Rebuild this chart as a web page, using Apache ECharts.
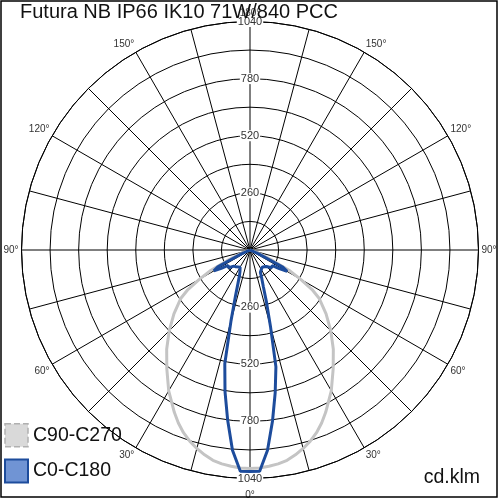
<!DOCTYPE html>
<html>
<head>
<meta charset="utf-8">
<script src="https://cdn.jsdelivr.net/npm/echarts@6/dist/echarts.min.js"></script>
<style>
html,body{margin:0;padding:0;background:#fff;}
#c{width:500px;height:500px;}
</style>
</head>
<body>
<div id="c"></div>
<script>
// gamma angles (deg from nadir)
const gammaAngles = [0, 2.5, 5, 7.5, 10, 12.5, 15, 17.5, 20, 22.5, 25, 30, 35, 40, 45, 50, 55, 57.5, 60, 62.5, 65, 67.5, 70, 75, 80, 85, 90, 180];
// C0 plane (drawn on right half), C180 plane (left half), cd/klm
const c0Values   = [1008, 1008, 915, 785, 660, 545, 360, 250, 178, 140, 112, 92, 96, 100, 106, 126, 124, 158, 195, 168, 45, 12, 5, 2, 1, 0, 0, 0];
const c180Values = [1008, 1008, 915, 780, 655, 530, 334, 220, 158, 125, 108, 90, 94, 100, 104, 126, 122, 155, 190, 165, 45, 12, 5, 2, 1, 0, 0, 0];
// C90 plane (right half), C270 plane (left half)
const c90Values  = [995, 993, 988, 982, 972, 955, 935, 912, 885, 852, 815, 740, 660, 590, 520, 452, 385, 335, 265, 200, 115, 50, 20, 6, 2, 0, 0, 0];
const c270Values = [995, 993, 988, 982, 972, 955, 935, 912, 885, 852, 815, 740, 660, 590, 520, 452, 385, 335, 265, 200, 115, 50, 20, 6, 2, 0, 0, 0];
// radial scale
const radiusMax = 1040;
const radiusStep = 130;
const radiusLabelValues = [260, 520, 780, 1040];
const angleLabelStep = 30;
const seriesNames = ['C90-C270', 'C0-C180'];
const titleText = 'Futura NB IP66 IK10 71W/840 PCC';
const unitText = 'cd.klm';

function buildLoop(rightVals, leftVals) {
  const pts = [];
  for (let i = gammaAngles.length - 1; i >= 0; i--) pts.push([rightVals[i], gammaAngles[i]]);
  for (let i = 0; i < gammaAngles.length; i++) pts.push([leftVals[i], 360 - gammaAngles[i]]);
  return pts;
}

const FONT = "'Liberation Sans', Arial, sans-serif";
const chart = echarts.init(document.getElementById('c'), null, {renderer: 'canvas'});

const radiusLabelFmt = v => radiusLabelValues.indexOf(v) >= 0 ? String(v) : '';

const option = {
  animation: false,
  backgroundColor: '#fff',
  title: [
    {text: titleText, left: 20, top: 2, padding: 0, z: 10,
     textStyle: {fontFamily: FONT, fontSize: 20, fontWeight: 'normal', color: '#111'}},
    {text: unitText, right: 20, top: 468, padding: 0,
     textStyle: {fontFamily: FONT, fontSize: 19.5, fontWeight: 'normal', color: '#111'}}
  ],
  legend: {
    orient: 'vertical', left: 4, top: 423, padding: 0,
    itemWidth: 23, itemHeight: 23, itemGap: 11,
    textStyle: {fontFamily: FONT, fontSize: 19.5, color: '#111', padding: [0, 0, 0, 0]},
    data: [
      {name: seriesNames[0], icon: 'rect', itemStyle: {color: '#d9d9d9', borderColor: '#b0b0b0', borderWidth: 1.5, borderType: 'dashed'}},
      {name: seriesNames[1], icon: 'rect', itemStyle: {color: '#7094d4', borderColor: '#1d4c9c', borderWidth: 2}}
    ]
  },
  polar: [
    {center: ['50%', '50%'], radius: 228.5},
    {center: ['50%', '50%'], radius: 228.5}
  ],
  angleAxis: [
    {
      polarIndex: 0, type: 'value', min: 0, max: 360, interval: 15,
      startAngle: 270, clockwise: false,
      axisLine: {show: true, lineStyle: {color: '#000', width: 1}},
      axisTick: {show: false},
      splitLine: {show: true, lineStyle: {color: '#000', width: 1}},
      axisLabel: {
        margin: 3, fontFamily: FONT, fontSize: 10, color: '#333',
        formatter: v => {
          if (v % angleLabelStep !== 0 || v >= 360) return '';
          if (v === 0) return '{low|0°}';
          return (v <= 180 ? v : 360 - v) + '°';
        },
        rich: {low: {fontFamily: FONT, fontSize: 10, color: '#333', padding: [9, 0, 0, 0]}}
      }
    },
    {
      polarIndex: 1, type: 'value', min: 0, max: 360, startAngle: 90,
      axisLine: {show: false}, axisTick: {show: false}, splitLine: {show: false}, axisLabel: {show: false}
    }
  ],
  radiusAxis: [
    {
      polarIndex: 0, type: 'value', min: 0, max: radiusMax, interval: radiusStep,
      axisLine: {show: false}, axisTick: {show: false},
      splitLine: {show: true, lineStyle: {color: '#000', width: 1}},
      axisLabel: {
        margin: 0, align: 'center', verticalAlign: 'middle', fontFamily: FONT, fontSize: 11, color: '#333',
        backgroundColor: '#fff', padding: [0, 1], formatter: radiusLabelFmt
      },
      z: 1
    },
    {
      polarIndex: 1, type: 'value', min: 0, max: radiusMax, interval: radiusStep,
      axisLine: {show: false}, axisTick: {show: false}, splitLine: {show: false},
      axisLabel: {
        margin: 0, align: 'center', verticalAlign: 'middle', fontFamily: FONT, fontSize: 11, color: '#333',
        backgroundColor: '#fff', padding: [0, 1], formatter: radiusLabelFmt
      },
      z: 1
    }
  ],
  series: [
    {
      name: seriesNames[0], type: 'line', coordinateSystem: 'polar', polarIndex: 0,
      data: buildLoop(c90Values, c270Values), symbol: 'none', smooth: false,
      lineStyle: {color: '#c4c4c4', width: 3}, itemStyle: {color: '#d9d9d9'}, z: 3
    },
    {
      name: seriesNames[1], type: 'line', coordinateSystem: 'polar', polarIndex: 0,
      data: buildLoop(c0Values, c180Values), symbol: 'none', smooth: false,
      lineStyle: {color: '#1d4c9c', width: 3}, itemStyle: {color: '#7094d4'}, z: 4
    }
  ],
  graphic: [
    {type: 'rect', shape: {x: 1, y: 1, width: 496, height: 496}, style: {fill: 'none', stroke: '#000', lineWidth: 1.5}, silent: true, z: 100}
  ]
};
chart.setOption(option);
</script>
</body>
</html>
